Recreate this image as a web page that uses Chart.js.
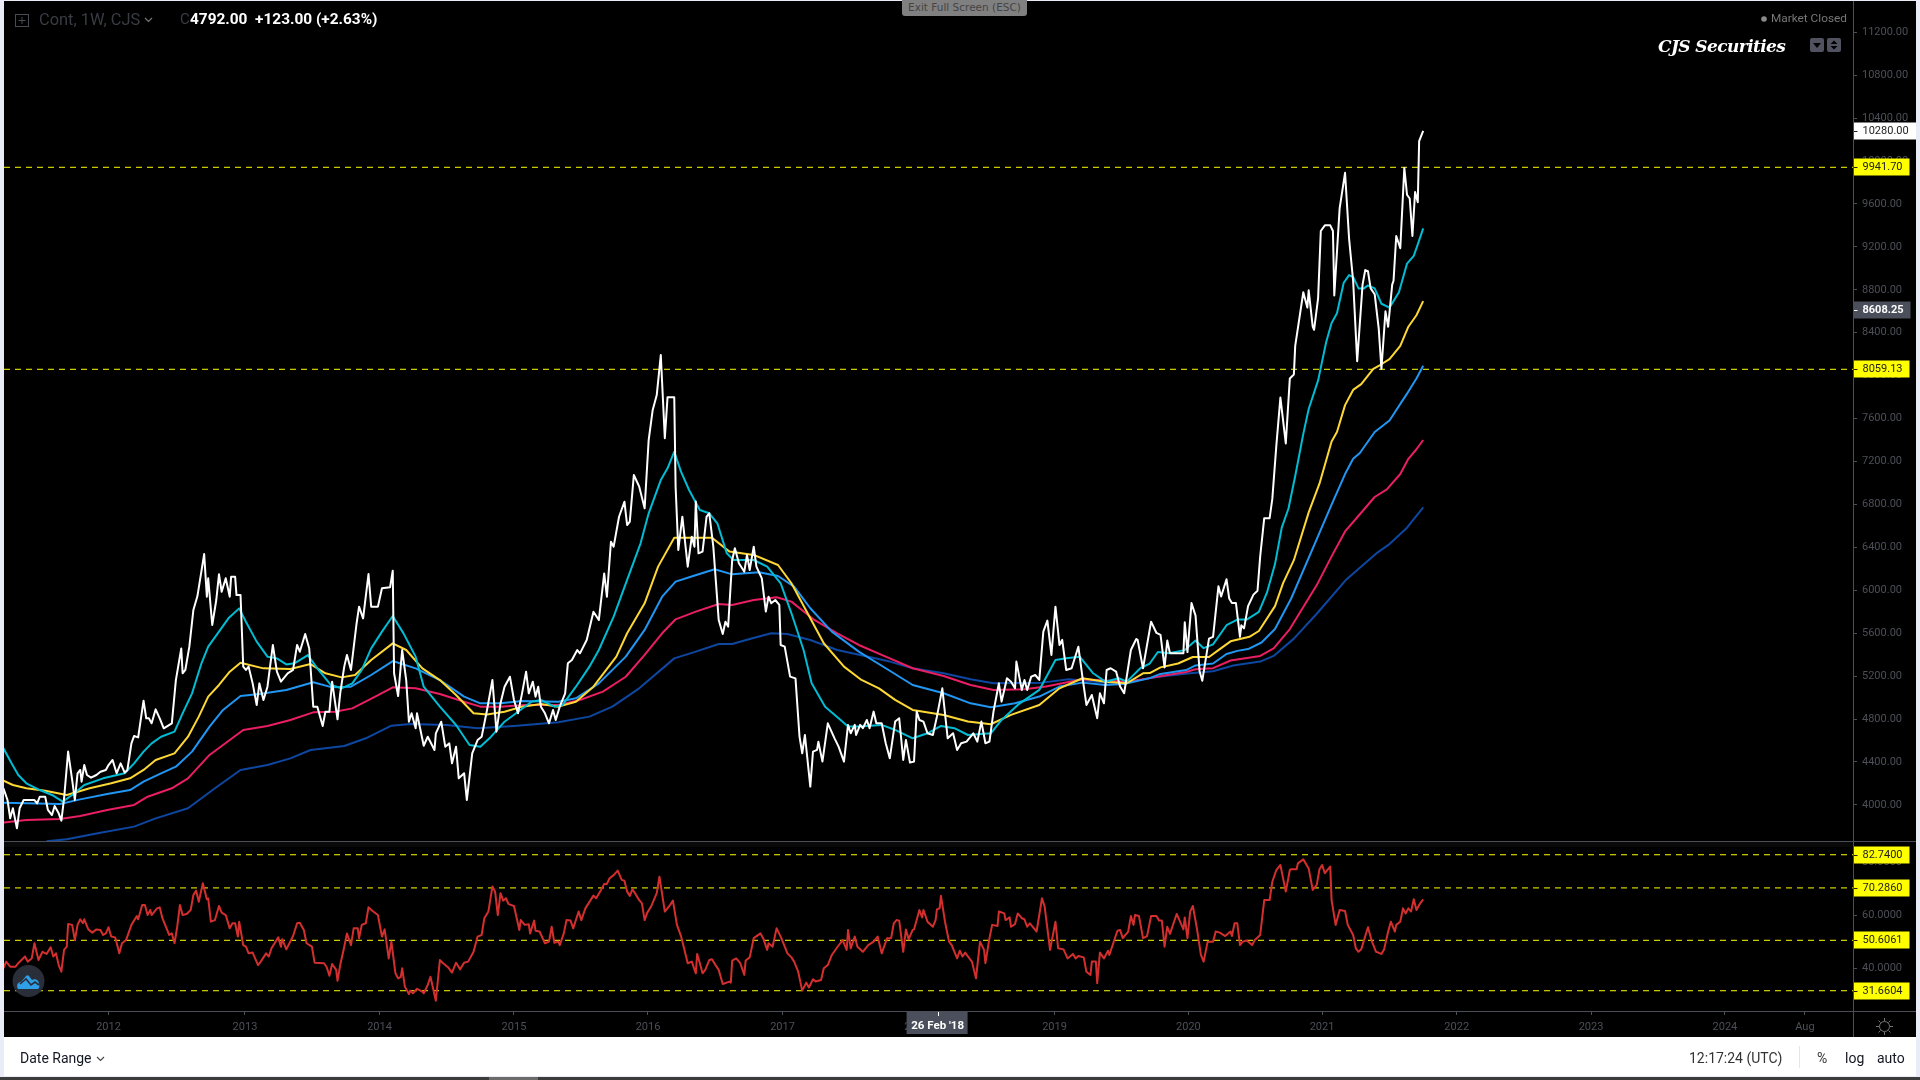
<!DOCTYPE html>
<html>
<head>
<meta charset="utf-8">
<title>Cont, 1W, CJS</title>
<script src="https://cdn.jsdelivr.net/npm/chart.js@4"></script>
<style>
html,body{margin:0;padding:0;width:1920px;height:1080px;overflow:hidden;background:#e9ecf6;font-family:Roboto,sans-serif}
#stage{position:absolute;left:4px;top:1px;width:1912px;height:1036px;background:#000}
canvas{position:absolute;display:block}
.t{position:absolute;white-space:pre;line-height:1}
.ln{position:absolute;background:#4c4e57}
#bar{position:absolute;left:4px;top:1037px;width:1912px;height:39px;background:#fff}
#foot{position:absolute;left:0;top:1077px;width:1920px;height:3px;background:#3c3c3c}
#foot i{position:absolute;left:489px;top:0;width:49px;height:3px;background:#6b6b6b}
#pill{position:absolute;left:902px;top:0;width:125px;height:16px;background:#808080;border-radius:0 0 3px 3px;color:#444;font:10.5px "DejaVu Sans",sans-serif;text-align:center;line-height:15px}
</style>
</head>
<body>
<div id="stage"></div>
<canvas id="priceCanvas" width="1912" height="841" style="left:4px;top:1px"></canvas>
<canvas id="rsiCanvas" width="1912" height="195" style="left:4px;top:842px"></canvas>

<div class="ln" style="left:4px;top:841px;width:1912px;height:1px"></div>
<div style="position:absolute;left:4px;top:842px;width:1849px;height:5px;background:rgba(255,255,255,.035)"></div>
<div class="ln" style="left:4px;top:1011px;width:1912px;height:1px"></div>
<div class="ln" style="left:1853px;top:1px;width:1px;height:1036px"></div>

<svg style="position:absolute;left:15px;top:14px" width="14" height="13"><rect x=".5" y=".5" width="13" height="12" fill="none" stroke="#4a4c55"/><path d="M7 3v7M3.5 6.5h7" stroke="#4a4c55"/></svg>
<div class="t" style="left:39px;top:12px;font-size:16.4px;color:#3a3c44">Cont, 1W, CJS</div>
<svg style="position:absolute;left:144px;top:17px" width="9" height="6"><path d="M1 1l3.5 3.5L8 1" fill="none" stroke="#777" stroke-width="1.2"/></svg>
<div class="t" style="left:180px;top:12px;font-size:15px;color:#3a3c44">C</div>
<div class="t" style="left:190px;top:12px;font-size:15.4px;font-weight:700;color:#fff">4792.00  +123.00 (+2.63%)</div>
<div id="pill">Exit Full Screen (ESC)</div>
<svg style="position:absolute;left:1761px;top:16px" width="6" height="6"><circle cx="3" cy="3" r="2.8" fill="#8a8a8a"/></svg>
<div class="t" style="left:1771px;top:13px;font-size:11.8px;color:#777">Market Closed</div>
<div class="t" style="left:1658px;top:36px;font:italic 700 17px 'DejaVu Serif',serif;color:#fff;letter-spacing:-.6px">CJS Securities</div>
<svg style="position:absolute;left:1810px;top:38px" width="32" height="15"><rect width="14" height="14" rx="2" fill="#50535f"/><path d="M3 5h8l-4 5z" fill="#000"/><rect x="17" width="14" height="14" rx="2" fill="#50535f"/><path d="M20.5 6h7l-3.500-3.500zM20.500 8h7l-3.500 3.500z" fill="#000"/></svg>

<svg style="position:absolute;left:12px;top:965px" width="33" height="33"><circle cx="16.500" cy="16" r="16" fill="#2a2e39"/><path d="M6 24c-2-4 0-7 3-7l5-6c1-1 2-1 3 0l3 4c3-2 7 0 7 4 1 3 0 5-2 5H9z" fill="#2f9fe8"/><path d="M8 19l6-5 5 6 4-3 4 3" fill="none" stroke="#2a2e39" stroke-width="1.600"/></svg>

<svg style="position:absolute;left:1876px;top:1018px" width="17" height="17"><g fill="none" stroke="#777"><circle cx="8.500" cy="8.500" r="5"/><path d="M8.500 0v3M8.500 14v3M0 8.500h3M14 8.500h3M2.500 2.500l2 2M12.500 12.500l2 2M2.500 14.500l2-2M12.500 4.500l2-2"/></g></svg>

<div id="bar"></div>
<div class="t" style="left:20px;top:1051px;font-size:14px;color:#131722">Date Range</div>
<svg style="position:absolute;left:96px;top:1056px" width="9" height="6"><path d="M1 1l3.500 3.500L8 1" fill="none" stroke="#444" stroke-width="1.100"/></svg>
<div class="t" style="left:1689px;top:1051px;font-size:14px;color:#333">12:17:24 (UTC)</div>
<div class="ln" style="left:1799px;top:1046px;width:1px;height:22px;background:#e4e6ec"></div>
<div class="t" style="left:1817px;top:1051px;font-size:14px;color:#333">%</div>
<div class="t" style="left:1845px;top:1051px;font-size:14px;color:#131722">log</div>
<div class="t" style="left:1877px;top:1051px;font-size:14px;color:#131722">auto</div>
<div id="foot"><i></i></div>

<script>
const xMin = 2011.224, xMax = 2024.951;
const priceMin = 3653.7, priceMax = 11491.5;
const rsiMin = 24.05, rsiMax = 87.53;

const xTickDates  = [2012.0, 2013.013, 2014.012, 2015.01, 2016.005, 2017.004, 2018.0, 2019.023, 2020.017, 2021.009, 2022.009, 2023.006, 2024.0, 2024.594];
const xTickLabels = ['2012','2013','2014','2015','2016','2017','2018','2019','2020','2021','2022','2023','2024','Aug'];
const priceTicks = [4000,4400,4800,5200,5600,6000,6400,6800,7200,7600,8000,8400,8800,9200,9600,10000,10400,10800,11200];
const rsiTicks = [40,60,80];
const priceLevels = [9941.70, 8059.13];
const rsiLevels = [82.74, 70.286, 50.6061, 31.6604];
const lastClose = 10280.00;
const lastAverage = 8608.25;
const crosshairDate = 2018.155;
const crosshairLabel = "26 Feb '18";

const closePoints = [[2011.22,4154],[2011.25,4045],[2011.27,3874],[2011.29,3968],[2011.32,3781],[2011.34,3968],[2011.37,4045],[2011.45,4045],[2011.47,4014],[2011.49,4076],[2011.53,4076],[2011.55,3952],[2011.58,3905],[2011.60,3989],[2011.63,3921],[2011.65,3853],[2011.67,4061],[2011.70,4496],[2011.73,4232],[2011.75,4045],[2011.77,4294],[2011.79,4325],[2011.80,4216],[2011.82,4371],[2011.84,4278],[2011.87,4253],[2011.91,4278],[2011.94,4309],[2011.98,4325],[2012.00,4371],[2012.03,4418],[2012.06,4294],[2012.09,4387],[2012.12,4300],[2012.14,4325],[2012.17,4573],[2012.19,4642],[2012.22,4629],[2012.26,4971],[2012.28,4806],[2012.30,4806],[2012.32,4760],[2012.35,4890],[2012.38,4806],[2012.41,4713],[2012.47,4760],[2012.50,5163],[2012.54,5458],[2012.55,5226],[2012.57,5257],[2012.60,5474],[2012.63,5816],[2012.66,5946],[2012.71,6337],[2012.73,5940],[2012.74,6111],[2012.77,5676],[2012.80,5909],[2012.82,6148],[2012.84,5986],[2012.87,6111],[2012.90,5940],[2012.91,6126],[2012.94,6126],[2012.95,5955],[2012.98,5955],[2013.00,5288],[2013.02,5257],[2013.04,5288],[2013.07,5132],[2013.10,4930],[2013.12,5132],[2013.15,4977],[2013.18,5101],[2013.22,5490],[2013.25,5241],[2013.28,5148],[2013.33,5226],[2013.37,5257],[2013.40,5490],[2013.42,5427],[2013.46,5592],[2013.49,5458],[2013.52,4915],[2013.55,4915],[2013.59,4735],[2013.61,4868],[2013.64,4868],[2013.66,5148],[2013.70,4797],[2013.72,5039],[2013.75,5288],[2013.77,5396],[2013.80,5257],[2013.84,5676],[2013.86,5847],[2013.89,5738],[2013.93,6151],[2013.95,5847],[2014.00,5847],[2014.03,6018],[2014.09,6027],[2014.11,6182],[2014.12,5226],[2014.15,5014],[2014.18,5443],[2014.21,5163],[2014.23,4775],[2014.25,4853],[2014.28,4713],[2014.29,4853],[2014.34,4551],[2014.37,4635],[2014.42,4511],[2014.43,4666],[2014.47,4775],[2014.50,4542],[2014.53,4573],[2014.55,4387],[2014.58,4542],[2014.60,4247],[2014.64,4294],[2014.66,4045],[2014.70,4480],[2014.74,4604],[2014.77,4635],[2014.81,4884],[2014.85,5163],[2014.88,4682],[2014.91,4946],[2014.94,5101],[2014.98,5194],[2015.01,4977],[2015.04,4853],[2015.07,5039],[2015.10,5241],[2015.12,5039],[2015.15,5148],[2015.17,5008],[2015.19,5101],[2015.21,4915],[2015.24,4853],[2015.27,4760],[2015.30,4884],[2015.32,4791],[2015.35,4915],[2015.39,5039],[2015.41,5319],[2015.44,5350],[2015.48,5443],[2015.50,5412],[2015.55,5536],[2015.60,5800],[2015.64,5722],[2015.68,6157],[2015.70,5940],[2015.73,6452],[2015.75,6406],[2015.79,6685],[2015.83,6825],[2015.85,6608],[2015.87,6639],[2015.90,7074],[2015.94,6965],[2015.98,6763],[2016.01,7400],[2016.04,7680],[2016.07,7819],[2016.10,8192],[2016.13,7416],[2016.15,7798],[2016.20,7798],[2016.21,6965],[2016.23,6375],[2016.26,6686],[2016.30,6220],[2016.33,6499],[2016.35,6406],[2016.36,6826],[2016.38,6344],[2016.41,6360],[2016.44,6686],[2016.46,6717],[2016.49,6406],[2016.53,5723],[2016.56,5593],[2016.58,5707],[2016.60,5661],[2016.63,6282],[2016.65,6391],[2016.68,6251],[2016.72,6173],[2016.74,6329],[2016.76,6189],[2016.79,6406],[2016.81,6220],[2016.85,6111],[2016.88,5801],[2016.90,5940],[2016.92,5878],[2016.95,5909],[2016.98,5863],[2016.99,5490],[2017.02,5474],[2017.06,5195],[2017.10,5179],[2017.13,4636],[2017.15,4481],[2017.17,4651],[2017.21,4170],[2017.23,4496],[2017.26,4512],[2017.27,4589],[2017.30,4403],[2017.34,4760],[2017.39,4620],[2017.42,4543],[2017.46,4403],[2017.49,4745],[2017.51,4667],[2017.54,4745],[2017.55,4651],[2017.58,4745],[2017.60,4714],[2017.63,4791],[2017.65,4714],[2017.68,4869],[2017.70,4760],[2017.74,4760],[2017.77,4574],[2017.80,4434],[2017.84,4776],[2017.87,4807],[2017.90,4418],[2017.92,4605],[2017.95,4394],[2017.98,4403],[2018.00,4869],[2018.02,4791],[2018.05,4776],[2018.08,4667],[2018.12,4651],[2018.15,4822],[2018.19,5086],[2018.23,4620],[2018.27,4667],[2018.30,4512],[2018.33,4574],[2018.37,4589],[2018.42,4667],[2018.45,4589],[2018.48,4776],[2018.51,4574],[2018.54,4589],[2018.57,4869],[2018.61,5133],[2018.63,4962],[2018.67,5180],[2018.70,5148],[2018.73,5086],[2018.74,5335],[2018.78,5071],[2018.80,5164],[2018.82,5071],[2018.85,5195],[2018.88,5210],[2018.91,5164],[2018.94,5614],[2018.97,5717],[2019.00,5397],[2019.03,5847],[2019.06,5490],[2019.08,5537],[2019.11,5257],[2019.15,5273],[2019.20,5474],[2019.23,5195],[2019.26,4931],[2019.30,5024],[2019.34,4807],[2019.36,5040],[2019.39,4946],[2019.41,5257],[2019.44,5273],[2019.48,5242],[2019.51,5102],[2019.54,5040],[2019.59,5443],[2019.63,5546],[2019.64,5537],[2019.68,5273],[2019.74,5707],[2019.78,5602],[2019.81,5584],[2019.84,5281],[2019.86,5531],[2019.88,5413],[2019.98,5413],[2019.99,5702],[2020.01,5424],[2020.04,5880],[2020.07,5763],[2020.10,5246],[2020.12,5156],[2020.17,5549],[2020.20,5566],[2020.24,6037],[2020.26,5941],[2020.30,6102],[2020.32,5923],[2020.34,5880],[2020.37,5880],[2020.40,5566],[2020.41,5673],[2020.43,5645],[2020.46,5852],[2020.50,5959],[2020.53,5995],[2020.55,6316],[2020.58,6672],[2020.62,6672],[2020.64,6851],[2020.67,7350],[2020.70,7796],[2020.74,7368],[2020.77,7974],[2020.80,8010],[2020.81,8277],[2020.87,8777],[2020.90,8634],[2020.91,8795],[2020.94,8456],[2020.95,8427],[2020.98,8723],[2021.00,9348],[2021.03,9401],[2021.07,9401],[2021.09,9348],[2021.10,8748],[2021.14,9562],[2021.18,9890],[2021.21,9276],[2021.24,8884],[2021.27,8135],[2021.31,8848],[2021.33,8984],[2021.35,8973],[2021.37,8813],[2021.40,8759],[2021.43,8438],[2021.45,8063],[2021.48,8599],[2021.50,8456],[2021.53,8848],[2021.54,8884],[2021.56,9301],[2021.59,9187],[2021.62,9936],[2021.64,9686],[2021.66,9651],[2021.68,9301],[2021.70,9711],[2021.72,9615],[2021.73,10186],[2021.76,10282]];

const tealPoints = [[2011.22,4527],[2011.28,4387],[2011.33,4278],[2011.39,4201],[2011.49,4138],[2011.58,4092],[2011.66,4030],[2011.73,4092],[2011.82,4185],[2011.96,4247],[2012.12,4294],[2012.19,4387],[2012.26,4496],[2012.32,4573],[2012.39,4635],[2012.49,4682],[2012.55,4853],[2012.62,5039],[2012.69,5319],[2012.74,5474],[2012.82,5614],[2012.89,5738],[2012.97,5831],[2013.02,5707],[2013.10,5521],[2013.18,5381],[2013.25,5365],[2013.32,5309],[2013.38,5319],[2013.48,5396],[2013.55,5272],[2013.65,5117],[2013.73,5086],[2013.81,5132],[2013.88,5257],[2013.95,5458],[2014.03,5614],[2014.11,5760],[2014.19,5598],[2014.28,5381],[2014.34,5101],[2014.46,4915],[2014.58,4744],[2014.68,4558],[2014.76,4542],[2014.84,4635],[2014.94,4775],[2015.04,4868],[2015.14,4961],[2015.21,4977],[2015.31,4915],[2015.37,4930],[2015.47,5101],[2015.57,5288],[2015.64,5443],[2015.75,5754],[2015.85,6096],[2015.95,6437],[2016.01,6717],[2016.10,7027],[2016.15,7136],[2016.20,7291],[2016.25,7105],[2016.31,6934],[2016.39,6748],[2016.46,6717],[2016.52,6624],[2016.59,6344],[2016.64,6282],[2016.79,6282],[2016.89,6220],[2016.99,6065],[2017.07,5785],[2017.16,5443],[2017.22,5133],[2017.32,4915],[2017.42,4807],[2017.49,4729],[2017.57,4729],[2017.74,4745],[2017.84,4698],[2017.97,4620],[2018.08,4667],[2018.18,4735],[2018.28,4714],[2018.38,4651],[2018.55,4667],[2018.63,4791],[2018.75,4931],[2018.91,5071],[2019.03,5350],[2019.11,5366],[2019.21,5381],[2019.31,5226],[2019.40,5148],[2019.50,5180],[2019.56,5148],[2019.66,5273],[2019.73,5317],[2019.79,5424],[2019.87,5413],[2019.99,5442],[2020.07,5531],[2020.13,5460],[2020.20,5495],[2020.30,5674],[2020.38,5727],[2020.45,5727],[2020.54,5798],[2020.60,5977],[2020.66,6244],[2020.71,6583],[2020.76,6762],[2020.81,7065],[2020.87,7457],[2020.91,7689],[2020.98,7956],[2021.04,8313],[2021.08,8491],[2021.12,8581],[2021.17,8866],[2021.21,8937],[2021.24,8919],[2021.28,8813],[2021.32,8813],[2021.35,8841],[2021.40,8813],[2021.45,8670],[2021.51,8634],[2021.58,8777],[2021.64,9044],[2021.69,9116],[2021.72,9223],[2021.76,9373]];

const yellowPoints = [[2011.22,4225],[2011.29,4185],[2011.39,4154],[2011.53,4132],[2011.69,4092],[2011.86,4154],[2012.02,4201],[2012.16,4247],[2012.26,4325],[2012.35,4418],[2012.49,4480],[2012.59,4635],[2012.67,4822],[2012.74,5008],[2012.82,5117],[2012.90,5241],[2012.98,5325],[2013.15,5272],[2013.35,5266],[2013.50,5312],[2013.61,5226],[2013.73,5188],[2013.83,5210],[2013.95,5350],[2014.11,5505],[2014.21,5443],[2014.33,5272],[2014.46,5163],[2014.58,5024],[2014.71,4853],[2014.81,4843],[2014.94,4868],[2015.07,4915],[2015.21,4940],[2015.34,4915],[2015.47,4961],[2015.60,5101],[2015.77,5381],[2015.85,5599],[2015.98,5878],[2016.08,6220],[2016.20,6490],[2016.48,6490],[2016.61,6360],[2016.79,6329],[2016.97,6235],[2017.07,6065],[2017.21,5739],[2017.31,5506],[2017.46,5288],[2017.59,5164],[2017.72,5086],[2017.84,4978],[2017.97,4884],[2018.20,4838],[2018.38,4776],[2018.55,4751],[2018.70,4838],[2018.91,4931],[2019.06,5086],[2019.23,5180],[2019.40,5148],[2019.56,5133],[2019.68,5226],[2019.73,5228],[2019.81,5281],[2019.94,5317],[2020.05,5378],[2020.17,5378],[2020.24,5442],[2020.33,5524],[2020.47,5566],[2020.54,5620],[2020.66,5852],[2020.72,6066],[2020.80,6280],[2020.91,6726],[2020.99,6993],[2021.08,7386],[2021.12,7475],[2021.18,7725],[2021.24,7867],[2021.30,7921],[2021.39,8063],[2021.44,8099],[2021.51,8153],[2021.59,8277],[2021.65,8456],[2021.71,8563],[2021.76,8695]];

const bluePoints = [[2011.22,4020],[2011.39,4014],[2011.64,4008],[2011.79,4051],[2011.99,4101],[2012.16,4138],[2012.26,4216],[2012.39,4294],[2012.50,4356],[2012.62,4496],[2012.75,4729],[2012.85,4884],[2012.98,5014],[2013.12,5033],[2013.32,5070],[2013.52,5142],[2013.66,5095],[2013.80,5101],[2013.95,5210],[2014.11,5340],[2014.28,5272],[2014.46,5163],[2014.64,5008],[2014.76,4946],[2014.91,4946],[2015.07,4968],[2015.34,4961],[2015.47,4993],[2015.64,5132],[2015.84,5381],[2015.98,5630],[2016.11,5940],[2016.21,6080],[2016.34,6133],[2016.50,6195],[2016.63,6148],[2016.83,6167],[2016.97,6133],[2017.09,6034],[2017.21,5832],[2017.37,5614],[2017.57,5428],[2017.77,5273],[2017.97,5117],[2018.20,5040],[2018.40,4946],[2018.55,4909],[2018.73,4946],[2018.91,5009],[2019.06,5102],[2019.23,5139],[2019.40,5117],[2019.54,5127],[2019.73,5181],[2019.81,5220],[2020.00,5256],[2020.07,5299],[2020.20,5317],[2020.30,5406],[2020.38,5435],[2020.46,5452],[2020.56,5513],[2020.66,5638],[2020.78,5923],[2020.97,6476],[2021.08,6797],[2021.18,7083],[2021.24,7225],[2021.29,7279],[2021.40,7475],[2021.51,7582],[2021.64,7832],[2021.71,7974],[2021.76,8092]];

const pinkPoints = [[2011.22,3834],[2011.39,3859],[2011.64,3868],[2011.79,3896],[2011.99,3952],[2012.19,3999],[2012.29,4076],[2012.47,4154],[2012.59,4247],[2012.75,4465],[2013.00,4698],[2013.18,4735],[2013.35,4791],[2013.52,4862],[2013.68,4868],[2013.81,4899],[2013.98,5008],[2014.11,5095],[2014.28,5086],[2014.46,5033],[2014.64,4961],[2014.76,4915],[2014.91,4915],[2015.09,4930],[2015.34,4930],[2015.50,4977],[2015.67,5055],[2015.84,5194],[2015.98,5397],[2016.11,5599],[2016.21,5729],[2016.36,5801],[2016.53,5872],[2016.63,5863],[2016.79,5909],[2016.96,5934],[2017.07,5894],[2017.24,5723],[2017.41,5599],[2017.57,5490],[2017.77,5381],[2017.97,5273],[2018.20,5201],[2018.40,5117],[2018.57,5071],[2018.80,5077],[2018.96,5102],[2019.23,5170],[2019.40,5158],[2019.56,5148],[2019.73,5181],[2019.86,5210],[2020.00,5238],[2020.07,5263],[2020.20,5274],[2020.33,5345],[2020.55,5388],[2020.65,5459],[2020.77,5638],[2020.97,6048],[2021.08,6316],[2021.18,6548],[2021.29,6708],[2021.40,6869],[2021.49,6940],[2021.59,7083],[2021.65,7225],[2021.71,7314],[2021.76,7400]];

const navyPoints = [[2011.54,3660],[2011.69,3679],[2011.92,3735],[2012.19,3797],[2012.35,3874],[2012.59,3968],[2012.79,4154],[2012.98,4325],[2013.18,4371],[2013.35,4433],[2013.50,4511],[2013.75,4548],[2013.91,4620],[2014.10,4738],[2014.24,4753],[2014.51,4744],[2014.74,4713],[2015.01,4735],[2015.34,4769],[2015.57,4822],[2015.74,4915],[2015.94,5086],[2016.20,5365],[2016.36,5428],[2016.53,5499],[2016.63,5499],[2016.78,5552],[2016.92,5599],[2017.04,5593],[2017.21,5536],[2017.41,5443],[2017.64,5381],[2017.80,5335],[2017.97,5273],[2018.20,5226],[2018.40,5170],[2018.57,5133],[2018.93,5139],[2019.13,5170],[2019.40,5139],[2019.56,5139],[2019.73,5181],[2019.86,5203],[2020.05,5228],[2020.20,5245],[2020.35,5299],[2020.55,5335],[2020.65,5388],[2020.80,5549],[2020.97,5781],[2021.19,6101],[2021.42,6351],[2021.51,6430],[2021.64,6583],[2021.76,6772]];

const rsiPoints = [[2011.22,40.1],[2011.24,42.6],[2011.27,40.7],[2011.31,40.7],[2011.33,42.0],[2011.38,44.5],[2011.40,42.6],[2011.43,43.8],[2011.45,49.5],[2011.48,43.2],[2011.51,46.3],[2011.54,45.5],[2011.57,48.0],[2011.59,44.5],[2011.61,45.7],[2011.63,41.3],[2011.65,38.8],[2011.67,47.0],[2011.69,48.2],[2011.70,56.7],[2011.73,56.4],[2011.75,50.7],[2011.77,56.4],[2011.79,58.5],[2011.81,57.0],[2011.82,58.5],[2011.85,54.7],[2011.88,53.5],[2011.91,54.7],[2011.94,54.5],[2011.96,52.6],[2011.98,53.2],[2012.00,55.5],[2012.02,52.0],[2012.05,51.7],[2012.08,45.7],[2012.10,49.5],[2012.13,50.7],[2012.17,56.4],[2012.21,59.7],[2012.22,58.5],[2012.25,63.9],[2012.27,63.9],[2012.29,60.1],[2012.31,62.0],[2012.32,60.1],[2012.36,62.6],[2012.38,63.0],[2012.40,58.9],[2012.45,52.6],[2012.47,53.2],[2012.49,49.5],[2012.51,55.7],[2012.53,63.9],[2012.55,60.1],[2012.58,60.5],[2012.61,62.0],[2012.63,67.6],[2012.65,69.3],[2012.67,65.1],[2012.70,72.0],[2012.73,66.0],[2012.74,66.4],[2012.76,57.6],[2012.79,58.2],[2012.82,63.5],[2012.84,61.0],[2012.87,60.1],[2012.90,55.1],[2012.92,57.0],[2012.94,57.0],[2012.96,52.0],[2012.97,57.6],[2013.00,48.8],[2013.02,48.2],[2013.04,45.7],[2013.07,46.0],[2013.11,41.3],[2013.13,42.6],[2013.17,45.7],[2013.19,44.5],[2013.21,47.6],[2013.26,51.7],[2013.28,48.2],[2013.29,51.0],[2013.32,47.2],[2013.37,52.2],[2013.40,57.0],[2013.42,57.2],[2013.45,54.5],[2013.47,49.5],[2013.51,48.2],[2013.53,42.2],[2013.60,42.0],[2013.62,40.5],[2013.64,37.3],[2013.66,41.7],[2013.69,39.5],[2013.70,35.4],[2013.72,41.3],[2013.75,48.2],[2013.77,53.2],[2013.80,48.8],[2013.82,55.1],[2013.85,55.1],[2013.86,51.4],[2013.88,56.4],[2013.91,57.0],[2013.93,63.0],[2013.96,61.6],[2014.00,60.1],[2014.03,52.0],[2014.05,54.7],[2014.08,43.8],[2014.10,50.1],[2014.13,38.2],[2014.15,36.3],[2014.17,36.9],[2014.18,40.1],[2014.20,33.2],[2014.23,30.4],[2014.24,31.7],[2014.26,30.7],[2014.29,32.4],[2014.33,31.3],[2014.34,30.7],[2014.37,33.8],[2014.39,36.9],[2014.43,27.9],[2014.46,43.2],[2014.48,42.2],[2014.52,40.5],[2014.55,38.5],[2014.58,42.2],[2014.61,39.7],[2014.64,42.2],[2014.67,42.6],[2014.71,46.3],[2014.74,52.0],[2014.77,52.6],[2014.79,58.9],[2014.82,61.4],[2014.85,70.8],[2014.87,68.9],[2014.89,60.1],[2014.91,68.3],[2014.93,65.5],[2014.95,66.4],[2014.97,64.2],[2015.01,63.5],[2015.05,54.5],[2015.06,58.2],[2015.09,56.4],[2015.12,56.6],[2015.13,53.2],[2015.16,58.0],[2015.17,54.2],[2015.20,53.9],[2015.24,49.5],[2015.27,50.1],[2015.29,55.7],[2015.31,49.7],[2015.34,50.1],[2015.35,48.8],[2015.38,53.2],[2015.40,58.2],[2015.43,58.0],[2015.45,55.1],[2015.49,61.4],[2015.51,58.2],[2015.54,62.6],[2015.60,67.4],[2015.62,66.4],[2015.65,68.9],[2015.68,71.8],[2015.70,71.8],[2015.72,73.9],[2015.75,75.1],[2015.78,76.8],[2015.81,73.3],[2015.83,73.0],[2015.85,68.9],[2015.87,67.3],[2015.89,69.8],[2015.94,65.7],[2015.96,64.5],[2015.98,58.2],[2016.00,61.0],[2016.03,63.5],[2016.07,68.3],[2016.09,74.5],[2016.13,61.4],[2016.17,63.9],[2016.19,65.5],[2016.22,56.4],[2016.25,52.2],[2016.27,48.2],[2016.30,42.0],[2016.33,42.6],[2016.36,38.2],[2016.37,45.5],[2016.39,42.0],[2016.41,38.2],[2016.43,39.5],[2016.46,43.2],[2016.48,43.5],[2016.51,41.0],[2016.53,39.5],[2016.56,34.2],[2016.61,35.1],[2016.62,34.7],[2016.63,43.0],[2016.66,43.8],[2016.69,42.0],[2016.72,37.6],[2016.73,43.0],[2016.76,44.2],[2016.79,51.4],[2016.84,53.2],[2016.86,51.4],[2016.89,47.0],[2016.90,49.5],[2016.93,48.2],[2016.96,55.1],[2016.99,52.0],[2017.01,49.5],[2017.04,45.7],[2017.07,44.2],[2017.09,42.6],[2017.12,38.8],[2017.15,31.7],[2017.18,34.7],[2017.20,32.9],[2017.23,36.0],[2017.25,35.1],[2017.29,35.7],[2017.31,40.1],[2017.34,41.3],[2017.37,45.1],[2017.41,48.0],[2017.45,50.7],[2017.48,47.0],[2017.49,54.5],[2017.51,47.6],[2017.54,52.0],[2017.56,48.2],[2017.60,46.3],[2017.64,48.8],[2017.68,50.1],[2017.71,52.0],[2017.74,45.7],[2017.78,51.4],[2017.81,51.4],[2017.83,57.0],[2017.85,58.2],[2017.87,58.0],[2017.90,46.3],[2017.92,54.7],[2017.94,51.0],[2017.97,54.5],[2017.98,54.7],[2018.02,62.0],[2018.04,59.2],[2018.05,62.0],[2018.08,57.6],[2018.12,55.7],[2018.14,58.2],[2018.15,62.2],[2018.17,62.6],[2018.18,67.3],[2018.21,57.6],[2018.24,50.1],[2018.26,48.8],[2018.30,43.8],[2018.32,46.7],[2018.34,44.5],[2018.36,46.0],[2018.40,43.2],[2018.41,42.6],[2018.44,36.3],[2018.47,50.1],[2018.50,47.0],[2018.51,42.0],[2018.54,51.4],[2018.56,56.4],[2018.60,56.0],[2018.61,61.4],[2018.65,60.7],[2018.66,58.2],[2018.69,59.2],[2018.70,55.7],[2018.73,56.7],[2018.75,60.7],[2018.78,58.9],[2018.80,58.5],[2018.82,55.7],[2018.84,57.0],[2018.89,53.9],[2018.93,66.4],[2018.95,63.2],[2018.99,47.0],[2019.03,57.6],[2019.05,47.6],[2019.09,47.2],[2019.12,43.8],[2019.16,45.5],[2019.18,43.8],[2019.20,44.7],[2019.24,44.2],[2019.26,38.8],[2019.29,37.6],[2019.30,42.6],[2019.33,42.6],[2019.34,34.5],[2019.36,46.0],[2019.39,43.8],[2019.42,46.7],[2019.43,45.1],[2019.49,54.2],[2019.51,54.5],[2019.53,51.4],[2019.57,53.9],[2019.59,59.7],[2019.61,56.4],[2019.62,60.1],[2019.65,59.7],[2019.68,51.4],[2019.71,52.2],[2019.74,59.7],[2019.78,59.7],[2019.80,58.0],[2019.82,58.0],[2019.84,48.2],[2019.86,55.7],[2019.88,53.0],[2019.93,60.5],[2019.98,54.7],[2019.99,59.2],[2020.01,51.4],[2020.03,61.4],[2020.05,63.5],[2020.08,55.1],[2020.11,45.1],[2020.13,42.6],[2020.16,50.1],[2020.20,50.1],[2020.22,53.9],[2020.25,53.5],[2020.29,52.2],[2020.33,53.9],[2020.34,52.2],[2020.36,57.0],[2020.38,57.0],[2020.40,48.8],[2020.42,50.1],[2020.45,50.5],[2020.49,48.8],[2020.51,50.7],[2020.55,52.6],[2020.58,65.7],[2020.62,65.7],[2020.64,72.6],[2020.67,77.0],[2020.70,78.9],[2020.74,68.9],[2020.77,77.0],[2020.78,77.3],[2020.82,77.3],[2020.83,79.5],[2020.87,81.0],[2020.91,77.6],[2020.94,69.5],[2020.97,71.4],[2020.99,77.3],[2021.01,78.9],[2021.03,75.8],[2021.07,78.3],[2021.08,65.7],[2021.11,56.4],[2021.14,62.0],[2021.18,61.6],[2021.20,56.4],[2021.24,52.6],[2021.26,47.6],[2021.28,46.3],[2021.30,47.2],[2021.35,55.5],[2021.38,50.1],[2021.41,46.3],[2021.45,45.5],[2021.47,47.2],[2021.50,53.9],[2021.52,57.6],[2021.55,53.9],[2021.56,56.4],[2021.59,57.6],[2021.61,62.6],[2021.63,60.7],[2021.65,62.6],[2021.67,61.4],[2021.69,66.0],[2021.71,62.0],[2021.73,63.9],[2021.76,66.0]];

const toXY = pts => pts.map(p => ({x:p[0], y:p[1]}));
const series = (label, pts, color, width) => ({label, data:toXY(pts), borderColor:color, borderWidth:width, pointRadius:0, tension:0, fill:false, borderJoinStyle:'round'});
const level = (v) => ({label:'level '+v, data:[{x:xMin,y:v},{x:xMax,y:v}], borderColor:'#ffff00', borderWidth:1, borderDash:[6,5], pointRadius:0, fill:false});

const axisFont = {family:'Roboto', size:11};
const axisColor = '#4d4f58';

function tag(ctx, area, y, text, opt){
  const x0 = area.right + 0.5;
  ctx.save();
  ctx.fillStyle = opt.bg;
  ctx.fillRect(x0, Math.round(y) - 8.5, opt.w, 17);
  ctx.fillStyle = opt.fg;
  ctx.fillRect(x0, Math.round(y), 4, 1);
  ctx.font = (opt.bold ? '700 ' : '') + '11px Roboto';
  ctx.textBaseline = 'middle';
  ctx.textAlign = 'left';
  ctx.fillText(text, x0 + 9, Math.round(y) + 0.5);
  ctx.restore();
}

const priceTags = {
  id:'priceTags',
  afterDraw(c){
    const y = c.scales.y, a = c.chartArea, ctx = c.ctx;
    tag(ctx, a, y.getPixelForValue(lastClose), lastClose.toFixed(2), {bg:'#ffffff', fg:'#222', w:63});
    priceLevels.forEach(v => tag(ctx, a, y.getPixelForValue(v), v.toFixed(2), {bg:'#ffff00', fg:'#222', w:56}));
    tag(ctx, a, y.getPixelForValue(lastAverage), lastAverage.toFixed(2), {bg:'#4b4f5b', fg:'#fff', w:57, bold:true});
  }
};
const rsiTags = {
  id:'rsiTags',
  afterDraw(c){
    const y = c.scales.y, x = c.scales.x, a = c.chartArea, ctx = c.ctx;
    rsiLevels.forEach(v => tag(ctx, a, y.getPixelForValue(v), v.toFixed(4), {bg:'#ffff00', fg:'#222', w:56}));
    const px = x.getPixelForValue(crosshairDate);
    ctx.save();
    ctx.fillStyle = '#4b4f5b';
    ctx.fillRect(px - 31, a.bottom + 1, 61, 22);
    ctx.fillStyle = '#fff';
    ctx.fillRect(Math.round(px), a.bottom + 1, 1, 4);
    ctx.font = '700 11.5px Roboto';
    ctx.textAlign = 'center';
    ctx.textBaseline = 'middle';
    ctx.fillText(crosshairLabel, px, a.bottom + 15);
    ctx.restore();
  }
};

const yAxisBase = {
  position:'right',
  border:{display:false},
  grid:{drawOnChartArea:false, drawTicks:true, tickLength:4, color:axisColor},
  afterFit(s){ s.width = 63; s.paddingTop = 0; s.paddingBottom = 0; }
};

const common = {
  responsive:false, animation:false, events:[],
  layout:{padding:0},
  plugins:{legend:{display:false}, tooltip:{enabled:false}}
};

new Chart(document.getElementById('priceCanvas'), {
  type:'line',
  data:{datasets:[
    series('Close', closePoints, '#ffffff', 2),
    series('MA fast', tealPoints, '#00bcd4', 2),
    series('MA 2', yellowPoints, '#fdd835', 2),
    series('MA 3', bluePoints, '#2196f3', 2),
    series('MA 4', pinkPoints, '#e91e63', 2),
    series('MA slow', navyPoints, '#0d47a1', 2),
    ...priceLevels.map(level)
  ]},
  options:{...common,
    scales:{
      x:{type:'linear', min:xMin, max:xMax, display:false},
      y:{...yAxisBase, min:priceMin, max:priceMax,
         afterBuildTicks(s){ s.ticks = priceTicks.map(v => ({value:v})); },
         ticks:{color:axisColor, font:axisFont, padding:5, autoSkip:false, mirror:false, callback:v => Number(v).toFixed(2)}}
    }
  },
  plugins:[priceTags]
});

new Chart(document.getElementById('rsiCanvas'), {
  type:'line',
  data:{datasets:[
    series('RSI', rsiPoints, '#d32f2f', 2),
    ...rsiLevels.map(level)
  ]},
  options:{...common,
    scales:{
      x:{type:'linear', min:xMin, max:xMax,
         border:{display:false},
         grid:{drawOnChartArea:false, drawTicks:true, tickLength:4, color:axisColor},
         afterBuildTicks(s){ s.ticks = xTickDates.map(v => ({value:v})); },
         afterFit(s){ s.height = 26; s.paddingLeft = 0; s.paddingRight = 0; },
         ticks:{color:axisColor, font:axisFont, padding:6, autoSkip:false, maxRotation:0, minRotation:0,
                callback:v => xTickLabels[xTickDates.indexOf(v)]}},
      y:{...yAxisBase, min:rsiMin, max:rsiMax,
         afterBuildTicks(s){ s.ticks = rsiTicks.map(v => ({value:v})); },
         ticks:{color:axisColor, font:axisFont, padding:5, autoSkip:false, callback:v => Number(v).toFixed(4)}}
    }
  },
  plugins:[rsiTags]
});
</script>
</body>
</html>
